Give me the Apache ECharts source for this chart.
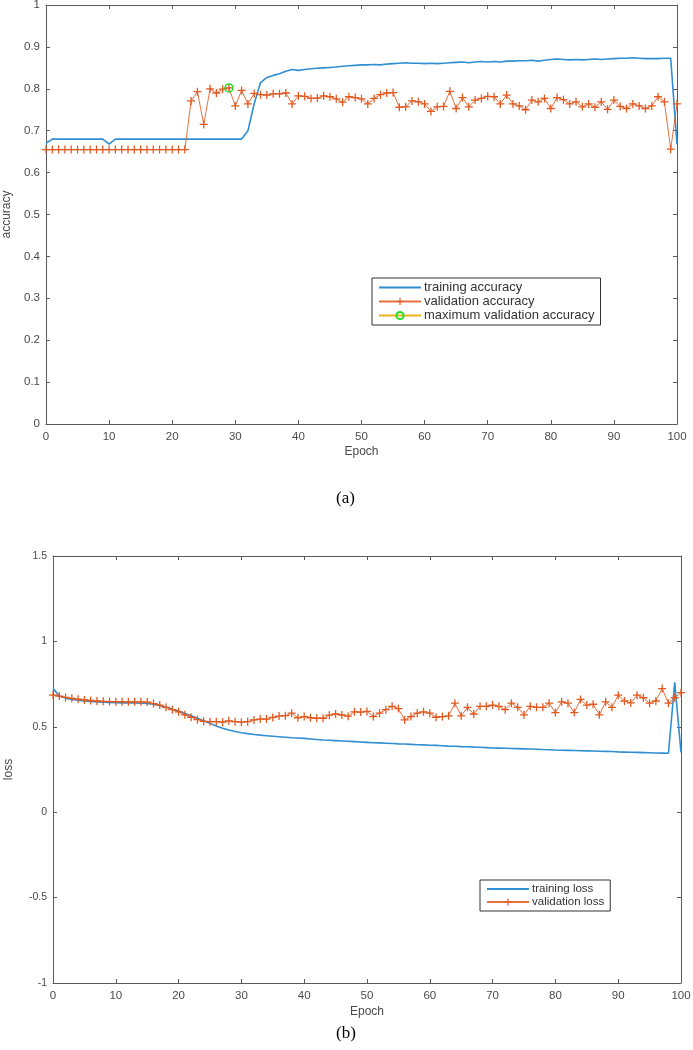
<!DOCTYPE html>
<html>
<head>
<meta charset="utf-8">
<script src="https://cdn.jsdelivr.net/npm/echarts@6/dist/echarts.min.js"></script>
<style>
html,body{margin:0;padding:0;background:#fff;}
#chart{width:693px;height:1050px;}
</style>
</head>
<body>
<div id="chart"></div>
<script>
// ---------------- data ----------------
const epochs = [];
for (let i = 0; i <= 100; i++) epochs.push(i);

const xTicks = [0,10,20,30,40,50,60,70,80,90,100];

const trainAcc = [
  0.670,0.680,0.680,0.680,0.680,0.680,0.680,0.680,0.680,0.680,
  0.668,0.680,0.680,0.680,0.680,0.680,0.680,0.680,0.680,0.680,
  0.680,0.680,0.680,0.680,0.680,0.680,0.680,0.680,0.680,0.680,
  0.680,0.680,0.700,0.765,0.815,0.827,0.832,0.836,0.842,0.846,
  0.844,0.846,0.848,0.849,0.850,0.851,0.852,0.854,0.855,0.856,
  0.857,0.857,0.858,0.857,0.859,0.860,0.861,0.862,0.861,0.861,
  0.860,0.861,0.860,0.861,0.862,0.863,0.864,0.862,0.864,0.865,
  0.864,0.865,0.864,0.866,0.866,0.867,0.867,0.868,0.866,0.868,
  0.870,0.871,0.870,0.869,0.870,0.869,0.870,0.871,0.870,0.871,
  0.872,0.873,0.873,0.874,0.873,0.872,0.872,0.872,0.873,0.873,
  0.668
];

const valAcc = [
  0.655,0.655,0.655,0.655,0.655,0.655,0.655,0.655,0.655,0.655,
  0.655,0.655,0.655,0.655,0.655,0.655,0.655,0.655,0.655,0.655,
  0.655,0.655,0.655,0.771,0.793,0.715,0.800,0.790,0.799,0.802,
  0.759,0.796,0.764,0.789,0.786,0.785,0.788,0.788,0.790,0.764,
  0.783,0.782,0.777,0.778,0.783,0.781,0.776,0.768,0.781,0.779,
  0.776,0.764,0.777,0.786,0.790,0.791,0.756,0.757,0.771,0.769,
  0.764,0.746,0.757,0.758,0.794,0.753,0.779,0.757,0.773,0.777,
  0.782,0.781,0.764,0.785,0.764,0.759,0.750,0.773,0.769,0.777,
  0.753,0.779,0.774,0.764,0.769,0.757,0.764,0.756,0.769,0.751,
  0.773,0.758,0.753,0.764,0.759,0.753,0.759,0.781,0.769,0.656,
  0.764
];

const maxValEpoch = 29;

const trainLoss = [
  0.725,0.680,0.668,0.660,0.655,0.651,0.648,0.646,0.644,0.642,
  0.641,0.640,0.640,0.639,0.638,0.636,0.632,0.625,0.615,0.603,
  0.592,0.578,0.564,0.550,0.535,0.520,0.505,0.492,0.481,0.472,
  0.465,0.460,0.455,0.451,0.448,0.445,0.442,0.439,0.436,0.434,
  0.432,0.429,0.426,0.423,0.421,0.419,0.417,0.415,0.413,0.411,
  0.409,0.407,0.406,0.404,0.402,0.400,0.399,0.397,0.395,0.394,
  0.392,0.391,0.389,0.387,0.386,0.384,0.383,0.381,0.380,0.378,
  0.376,0.375,0.374,0.373,0.372,0.371,0.370,0.369,0.367,0.366,
  0.364,0.363,0.362,0.361,0.360,0.359,0.358,0.357,0.356,0.355,
  0.353,0.352,0.351,0.350,0.349,0.348,0.347,0.346,0.345,0.760,
  0.350
];

const valLoss = [
  0.686,0.680,0.672,0.667,0.662,0.657,0.654,0.651,0.649,0.648,
  0.647,0.647,0.646,0.646,0.646,0.645,0.636,0.627,0.614,0.600,
  0.588,0.570,0.556,0.542,0.532,0.530,0.530,0.527,0.535,0.530,
  0.527,0.530,0.540,0.545,0.545,0.555,0.563,0.565,0.580,0.553,
  0.560,0.553,0.550,0.550,0.568,0.575,0.569,0.562,0.588,0.586,
  0.590,0.560,0.580,0.600,0.620,0.607,0.540,0.560,0.580,0.588,
  0.580,0.556,0.560,0.564,0.638,0.564,0.614,0.575,0.620,0.620,
  0.627,0.620,0.600,0.638,0.614,0.570,0.620,0.614,0.614,0.638,
  0.583,0.646,0.638,0.583,0.660,0.627,0.632,0.570,0.646,0.614,
  0.685,0.651,0.640,0.685,0.670,0.638,0.651,0.724,0.638,0.670,
  0.700
];

const seriesNamesA = ['training accuracy','validation accuracy','maximum validation accuracy'];
const seriesNamesB = ['training loss','validation loss'];

// ---------------- styling ----------------
const BLUE = '#2f8fd2';
const ORANGE = '#e2581f';
const YELLOW = '#EDB120';
const GREEN = '#22dd22';
const AXIS = '#5a5a5a';
const LABEL = '#4a4a4a';
const FONT = 'Liberation Sans, Arial, sans-serif';
const PLUS = 'path://M4.2,0H5.8V4.2H10V5.8H5.8V10H4.2V5.8H0V4.2H4.2Z';

const pairs = (ys) => epochs.map((e, i) => [e, ys[i]]);

function xAx(grid, pos, showLabel, extra) {
  return Object.assign({
    type: 'value', gridIndex: grid, position: pos, min: 0, max: 100, interval: 10,
    axisLine: {show: true, onZero: false, lineStyle: {color: AXIS, width: 1}},
    axisTick: {show: true, inside: true, length: 4, lineStyle: {color: AXIS}},
    axisLabel: {show: showLabel, color: LABEL, fontSize: 11.5, fontFamily: FONT, margin: 7},
    splitLine: {show: false}
  }, extra || {});
}
function yAx(grid, pos, showLabel, min, max, interval, fs, extra) {
  return Object.assign({
    type: 'value', gridIndex: grid, position: pos, min: min, max: max, interval: interval,
    axisLine: {show: true, onZero: false, lineStyle: {color: AXIS, width: 1}},
    axisTick: {show: true, inside: true, length: 4, lineStyle: {color: AXIS}},
    axisLabel: {show: showLabel, color: LABEL, fontSize: fs, fontFamily: FONT, margin: 6},
    splitLine: {show: false}
  }, extra || {});
}

const chart = echarts.init(document.getElementById('chart'), null, {renderer: 'canvas'});

const option = {
  backgroundColor: '#fff',
  animation: false,
  grid: [
    {left: 46, top: 5, width: 631, height: 419, containLabel: false, outerBoundsMode: 'none'},
    {left: 53, top: 556, width: 628, height: 427, containLabel: false, outerBoundsMode: 'none'}
  ],
  xAxis: [
    xAx(0, 'bottom', true, {name: 'Epoch', nameLocation: 'middle', nameGap: 22,
      nameTextStyle: {color: LABEL, fontSize: 12, fontFamily: FONT}}),
    xAx(0, 'top', false),
    xAx(1, 'bottom', true, {name: 'Epoch', nameLocation: 'middle', nameGap: 23,
      nameTextStyle: {color: LABEL, fontSize: 12, fontFamily: FONT}}),
    xAx(1, 'top', false)
  ],
  yAxis: [
    yAx(0, 'left', true, 0, 1, 0.1, 11.5, {name: 'accuracy', nameLocation: 'middle', nameGap: 31,
      nameTextStyle: {color: LABEL, fontSize: 12, fontFamily: FONT}}),
    yAx(0, 'right', false, 0, 1, 0.1, 11.5),
    yAx(1, 'left', true, -1, 1.5, 0.5, 10.5, {name: 'loss', nameLocation: 'middle', nameGap: 38,
      nameTextStyle: {color: LABEL, fontSize: 12, fontFamily: FONT}}),
    yAx(1, 'right', false, -1, 1.5, 0.5, 10.5)
  ],
  legend: [
    {
      data: [
        {name: seriesNamesA[0], itemStyle: {opacity: 0}},
        seriesNamesA[1],
        seriesNamesA[2]
      ],
      orient: 'vertical', left: 372, top: 278,
      backgroundColor: '#fff', borderColor: '#333', borderWidth: 1,
      padding: [3, 6, 3, 6], itemGap: 1, itemWidth: 42, itemHeight: 9,
      textStyle: {color: '#333', fontSize: 13, lineHeight: 13, fontFamily: FONT, padding: [0, 0, 0, -2]},
      selectedMode: false
    },
    {
      data: [
        {name: seriesNamesB[0], itemStyle: {opacity: 0}},
        seriesNamesB[1]
      ],
      orient: 'vertical', left: 480, top: 880,
      backgroundColor: '#fff', borderColor: '#333', borderWidth: 1,
      padding: [3, 6, 3, 6], itemGap: 1, itemWidth: 42, itemHeight: 9,
      textStyle: {color: '#333', fontSize: 11.5, lineHeight: 12, fontFamily: FONT, padding: [0, 0, 0, -2]},
      selectedMode: false
    }
  ],
  series: [
    {
      name: seriesNamesA[0], type: 'line', xAxisIndex: 0, yAxisIndex: 0,
      data: pairs(trainAcc), symbol: 'none', color: BLUE,
      lineStyle: {color: BLUE, width: 1.6}, z: 3
    },
    {
      name: seriesNamesA[1], type: 'line', xAxisIndex: 0, yAxisIndex: 0,
      data: pairs(valAcc), symbol: PLUS, symbolSize: 8, showAllSymbol: true, color: ORANGE,
      itemStyle: {color: ORANGE}, lineStyle: {color: ORANGE, width: 1, opacity: 0.85}, z: 4
    },
    {
      name: seriesNamesA[2], type: 'line', xAxisIndex: 0, yAxisIndex: 0,
      data: [[maxValEpoch, valAcc[maxValEpoch]]], symbol: 'circle', symbolSize: 8,
      color: GREEN,
      itemStyle: {color: 'rgba(0,0,0,0)', borderColor: GREEN, borderWidth: 1.5},
      lineStyle: {color: YELLOW, width: 1.5}, z: 5
    },
    {
      name: seriesNamesB[0], type: 'line', xAxisIndex: 2, yAxisIndex: 2,
      data: pairs(trainLoss), symbol: 'none', color: BLUE,
      lineStyle: {color: BLUE, width: 1.6}, z: 3
    },
    {
      name: seriesNamesB[1], type: 'line', xAxisIndex: 2, yAxisIndex: 2,
      data: pairs(valLoss), symbol: PLUS, symbolSize: 8, showAllSymbol: true, color: ORANGE,
      itemStyle: {color: ORANGE}, lineStyle: {color: ORANGE, width: 1, opacity: 0.85}, z: 4
    }
  ],
  graphic: [
    {type: 'text', left: 336, top: 490, style: {text: '(a)', fill: '#000',
      font: '17px "Liberation Serif", "Times New Roman", serif'}},
    {type: 'text', left: 336, top: 1025, style: {text: '(b)', fill: '#000',
      font: '17px "Liberation Serif", "Times New Roman", serif'}}
  ]
};
chart.setOption(option);
</script>
</body>
</html>
